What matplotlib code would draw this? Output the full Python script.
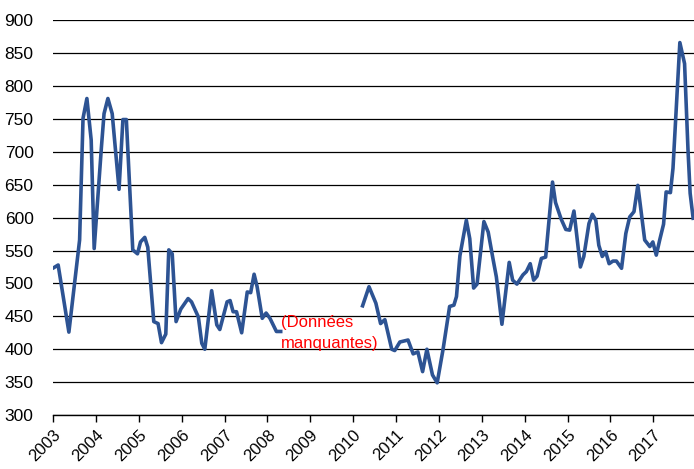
import numpy as np
import matplotlib.pyplot as plt
import matplotlib as mpl

mpl.rcParams["font.family"] = ["Liberation Sans", "DejaVu Sans"]

# decimal years and values; NaN marks the missing-data gap
years = [
    2003.02, 2003.12, 2003.37, 2003.62, 2003.70, 2003.79, 2003.89, 2003.96,
    2004.13, 2004.19, 2004.28, 2004.38, 2004.54, 2004.63, 2004.71, 2004.86,
    2004.97, 2005.04, 2005.14, 2005.21, 2005.35, 2005.45, 2005.53, 2005.63,
    2005.70, 2005.78, 2005.87, 2005.98, 2006.15, 2006.23, 2006.39, 2006.47,
    2006.54, 2006.70, 2006.82, 2006.89, 2007.06, 2007.13, 2007.20, 2007.28,
    2007.40, 2007.53, 2007.61, 2007.69, 2007.76, 2007.88, 2007.97, 2008.06,
    2008.21, 2008.31,
    2009.30,
    2010.22, 2010.37, 2010.53, 2010.64, 2010.74, 2010.90, 2010.97, 2011.09,
    2011.28, 2011.40, 2011.51, 2011.62, 2011.72, 2011.85, 2011.96, 2012.10,
    2012.25, 2012.35, 2012.41, 2012.49, 2012.64, 2012.72, 2012.81, 2012.89,
    2013.05, 2013.15, 2013.26, 2013.34, 2013.47, 2013.64, 2013.72, 2013.82,
    2013.96, 2014.04, 2014.13, 2014.21, 2014.29, 2014.39, 2014.49, 2014.65,
    2014.72, 2014.85, 2014.96, 2015.05, 2015.15, 2015.30, 2015.38, 2015.50,
    2015.58, 2015.66, 2015.73, 2015.81, 2015.89, 2015.97, 2016.06, 2016.14,
    2016.26, 2016.36, 2016.45, 2016.55, 2016.64, 2016.80, 2016.92, 2016.99,
    2017.07, 2017.15, 2017.24, 2017.30, 2017.40, 2017.46, 2017.62, 2017.73,
    2017.81, 2017.86, 2017.93,
]
values = [
    524, 528, 426, 566, 751, 781, 718, 553,
    708, 758, 781, 758, 643, 749, 749, 551,
    545, 563, 570, 555, 442, 439, 410, 423,
    551, 545, 442, 461, 477, 472, 449, 409,
    400, 489, 437, 430, 472, 474, 457, 457,
    425, 487, 486, 514, 495, 447, 455, 447,
    427, 427,
    np.nan,
    466, 495, 470, 439, 445, 400, 398, 411,
    414, 393, 396, 366, 400, 361, 349, 401,
    465, 467, 480, 542, 596, 568, 493, 499,
    594, 578, 538, 510, 438, 532, 505, 499,
    513, 518, 530, 505, 511, 538, 540, 654,
    623, 598, 582, 581, 610, 525, 541, 591,
    605, 596, 558, 541, 548, 530, 534, 534,
    523, 576, 601, 609, 649, 566, 556, 563,
    543, 566, 590, 639, 638, 675, 866, 834,
    703, 637, 599,
]

year_ticks = list(range(2003, 2018))
note = "(Données\nmanquantes)"

fig = plt.figure(figsize=(6.94, 4.69), dpi=100)
ax = fig.add_axes([0.0764, 0.115, 0.9236, 0.842])

ax.plot(years, values, color="#2D5393", lw=2.6, solid_joinstyle="round")

ax.set_xlim(2003, 2017.95)
ax.set_ylim(300, 900)
ax.set_yticks(np.arange(300, 901, 50))
ax.set_xticks(year_ticks)
ax.set_xticklabels([str(y) for y in year_ticks], rotation=45, ha="right",
                   rotation_mode="anchor", fontsize=12)
ax.tick_params(axis="y", length=0, pad=14, labelsize=12.5)
ax.tick_params(axis="x", length=5, width=1, color="black", pad=4)

ax.grid(axis="y", color="black", lw=0.9)
ax.set_axisbelow(True)
for s in ["left", "right", "top"]:
    ax.spines[s].set_visible(False)
ax.spines["bottom"].set_color("black")
ax.spines["bottom"].set_linewidth(1)

ax.text(2008.31, 452, note, color="red", fontsize=12, ha="left", va="top",
        linespacing=1.5)

fig.savefig("out.png", dpi=100)
